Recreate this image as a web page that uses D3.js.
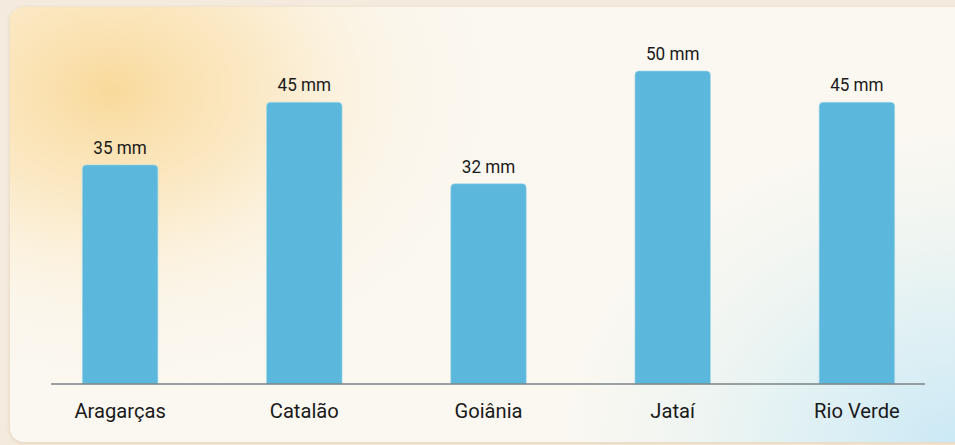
<!DOCTYPE html>
<html>
<head>
<meta charset="utf-8">
<script src="https://cdn.jsdelivr.net/npm/d3@7"></script>
<style>
  html, body { margin: 0; padding: 0; background: #f4ebde; }
  svg { display: block; }
</style>
</head>
<body>
<svg width="955" height="445"></svg>
<script>
// dados de chuva por cidade
var cidades = ["Aragarças", "Catalão", "Goiânia", "Jataí", "Rio Verde"];
var chuva = [35, 45, 32, 50, 45];
var unidade = " mm";

var svg = d3.select("svg"),
  width = +svg.attr("width"),
  height = +svg.attr("height");

var defs = svg.append("defs");

// fundo do cartão: mancha quente em cima à esquerda, azul embaixo à direita
var quente = defs.append("radialGradient").attr("id", "quente")
  .attr("gradientUnits", "userSpaceOnUse")
  .attr("cx", 110).attr("cy", 90).attr("r", 420)
  .attr("gradientTransform", "translate(110,90) scale(1,0.75) translate(-110,-90)");
quente.append("stop").attr("offset", 0).attr("stop-color", "#f9d48c").attr("stop-opacity", 0.85);
quente.append("stop").attr("offset", 0.35).attr("stop-color", "#fbdfa8").attr("stop-opacity", 0.6);
quente.append("stop").attr("offset", 0.7).attr("stop-color", "#fcefd6").attr("stop-opacity", 0.25);
quente.append("stop").attr("offset", 1).attr("stop-color", "#fdf5e8").attr("stop-opacity", 0);

var frio = defs.append("radialGradient").attr("id", "frio")
  .attr("gradientUnits", "userSpaceOnUse")
  .attr("cx", 960).attr("cy", 450).attr("r", 420)
  .attr("gradientTransform", "translate(960,450) scale(1,0.8) translate(-960,-450)");
frio.append("stop").attr("offset", 0).attr("stop-color", "#c9e8f6").attr("stop-opacity", 1);
frio.append("stop").attr("offset", 0.45).attr("stop-color", "#daeff4").attr("stop-opacity", 0.7);
frio.append("stop").attr("offset", 1).attr("stop-color", "#eef5f0").attr("stop-opacity", 0);

var sombra = defs.append("filter").attr("id", "sombra")
  .attr("x", -0.05).attr("y", -0.05).attr("width", 1.1).attr("height", 1.1);
sombra.append("feDropShadow").attr("dx", 0).attr("dy", 1).attr("stdDeviation", 2)
  .attr("flood-color", "#c09a60").attr("flood-opacity", 0.35);

[["#fbf8f1", "url(#sombra)"], ["url(#quente)", null], ["url(#frio)", null]].forEach(function(c) {
  svg.append("rect").attr("x", 10).attr("y", 7).attr("width", width + 20).attr("height", 435)
    .attr("rx", 14).attr("fill", c[0]).attr("filter", c[1]);
});

// escalas
var x = d3.scaleBand().domain(cidades).range([28, 949]).paddingInner(0.59).paddingOuter(0.295);
var base = 384;
var y = d3.scaleLinear().domain([0, 50]).range([base, 71]);

// barras com cantos de cima arredondados
function barra(x0, y0, w, h, r) {
  return "M" + x0 + "," + (y0 + h) +
    "V" + (y0 + r) + "Q" + x0 + "," + y0 + " " + (x0 + r) + "," + y0 +
    "H" + (x0 + w - r) + "Q" + (x0 + w) + "," + y0 + " " + (x0 + w) + "," + (y0 + r) +
    "V" + (y0 + h) + "Z";
}

var dados = cidades.map(function(c, i) { return { cidade: c, valor: chuva[i] }; });

svg.selectAll(".barra").data(dados).enter().append("path")
  .attr("class", "barra")
  .attr("d", function(d) {
    return barra(x(d.cidade), y(d.valor), x.bandwidth(), base - y(d.valor), 4);
  })
  .attr("fill", "#5bb8dc")
  .attr("stroke", "#a6dbe6").attr("stroke-width", 1).attr("stroke-opacity", 0.6);

// linha do eixo
svg.append("line").attr("x1", 51).attr("x2", 925).attr("y1", base).attr("y2", base)
  .attr("stroke", "#7d8385").attr("stroke-width", 1.6);

// rótulos de valor (letra um pouco estreita)
svg.selectAll(".valor").data(dados).enter().append("text")
  .attr("class", "valor")
  .attr("x", function(d) { return x(d.cidade) + x.bandwidth() / 2; })
  .attr("y", function(d) { return y(d.valor) - 11; })
  .attr("text-anchor", "middle")
  .attr("font-family", "Roboto, sans-serif").attr("font-size", 19)
  .attr("fill", "#1a1a1a")
  .text(function(d) { return d.valor + unidade; })
  .each(function() {
    var l = this.getComputedTextLength();
    d3.select(this).attr("textLength", l * 0.9).attr("lengthAdjust", "spacingAndGlyphs");
  });

// nomes das cidades
svg.selectAll(".cidade").data(dados).enter().append("text")
  .attr("class", "cidade")
  .attr("x", function(d) { return x(d.cidade) + x.bandwidth() / 2; })
  .attr("y", 418)
  .attr("text-anchor", "middle")
  .attr("font-family", "Roboto, sans-serif").attr("font-size", 21)
  .attr("fill", "#1a1a1a")
  .text(function(d) { return d.cidade; })
  .each(function() {
    var l = this.getComputedTextLength();
    d3.select(this).attr("textLength", l * 0.96).attr("lengthAdjust", "spacingAndGlyphs");
  });
</script>
</body>
</html>
